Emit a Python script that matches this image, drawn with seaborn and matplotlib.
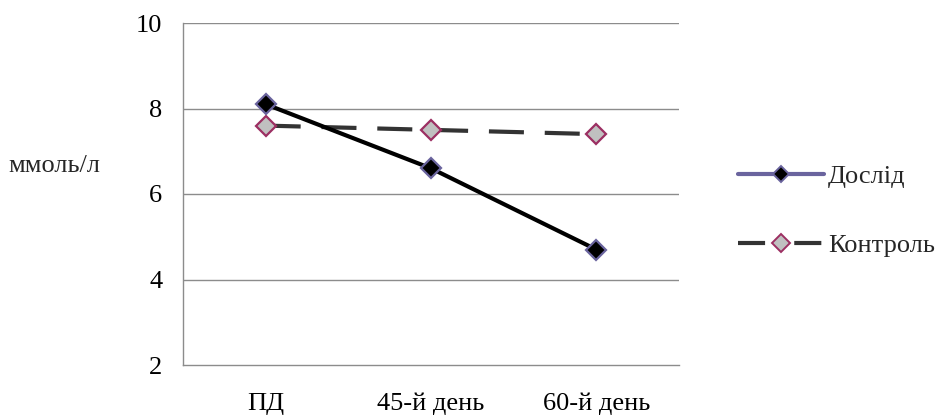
import matplotlib
matplotlib.use("Agg")
import matplotlib.pyplot as plt
from matplotlib.lines import Line2D
import seaborn as sns
import pandas as pd

categories = ["ПД", "45-й день", "60-й день"]
doslid = [8.1, 6.6, 4.7]
kontrol = [7.6, 7.5, 7.4]
series_names = ["Дослід", "Контроль"]
y_label = "ммоль/л"
y_ticks = [2, 4, 6, 8, 10]

sns.set_theme(style="white")
plt.rcParams["font.family"] = ["Liberation Serif", "DejaVu Serif"]

df_d = pd.DataFrame({"x": range(len(categories)), "y": doslid})
df_k = pd.DataFrame({"x": range(len(categories)), "y": kontrol})

fig = plt.figure(figsize=(9.41, 4.16), dpi=100)
ax = fig.add_axes([183 / 941, 1 - 365 / 416, (679 - 183) / 941, (365 - 23) / 416])

axis_grey = "#8c8c8c"
purple = "#6a649e"
crimson = "#9c2f62"
dash_grey = "#333333"
font_size = 19

sns.lineplot(data=df_k, x="x", y="y", ax=ax, color=dash_grey, linewidth=3.0,
             marker="D", markersize=10.5, markerfacecolor="#c0c0c0",
             markeredgecolor=crimson, markeredgewidth=1.6, zorder=3)
ax.lines[-1].set_dashes([8.4, 5.0])
sns.lineplot(data=df_d, x="x", y="y", ax=ax, color="black", linewidth=3.0,
             marker="D", markersize=10.5, markerfacecolor="black",
             markeredgecolor=purple, markeredgewidth=1.6, zorder=4)

ax.set_xlim(-0.5, len(categories) - 0.5)
ax.set_ylim(2, 10)
ax.set_yticks(y_ticks)
ax.set_yticklabels([str(t) for t in y_ticks])
ax.set_xticks(range(len(categories)))
ax.set_xticklabels(categories)
ax.set_xticks([i - 0.5 for i in range(len(categories) + 1)], minor=True)
ax.tick_params(axis="x", which="major", length=0, pad=20, labelsize=font_size, labelcolor="black")
ax.tick_params(axis="x", which="minor", length=6, width=1, color=axis_grey, direction="out")
ax.tick_params(axis="y", length=6.5, width=1, color=axis_grey, direction="out", pad=8.5,
               labelsize=font_size, labelcolor="black")
ax.set_xlabel("")
ax.set_ylabel("")

for t in y_ticks[1:]:
    ax.axhline(t, color=axis_grey, linewidth=1, zorder=0)
for side in ["top", "right"]:
    ax.spines[side].set_visible(False)
for side in ["left", "bottom"]:
    ax.spines[side].set_color(axis_grey)
    ax.spines[side].set_linewidth(1)

fig.text(8 / 941, 1 - 166 / 416, y_label, fontsize=font_size, va="center", ha="left")

handles = [
    Line2D([], [], color=purple, linewidth=3.0, marker="D", markersize=8.5,
           markerfacecolor="black", markeredgecolor=purple, markeredgewidth=1.4),
    Line2D([], [], color=dash_grey, linewidth=3.0, dashes=[6.5, 7.0], marker="D", markersize=9,
           markerfacecolor="#c0c0c0", markeredgecolor=crimson, markeredgewidth=1.4),
]
fig.legend(handles, series_names, loc="center left", bbox_to_anchor=(738 / 941, 1 - 211 / 416),
           frameon=False, fontsize=font_size, handlelength=3.25, handletextpad=0.15,
           labelspacing=1.72, borderpad=0, borderaxespad=0)

fig.savefig("out.png", dpi=100, facecolor="white")
